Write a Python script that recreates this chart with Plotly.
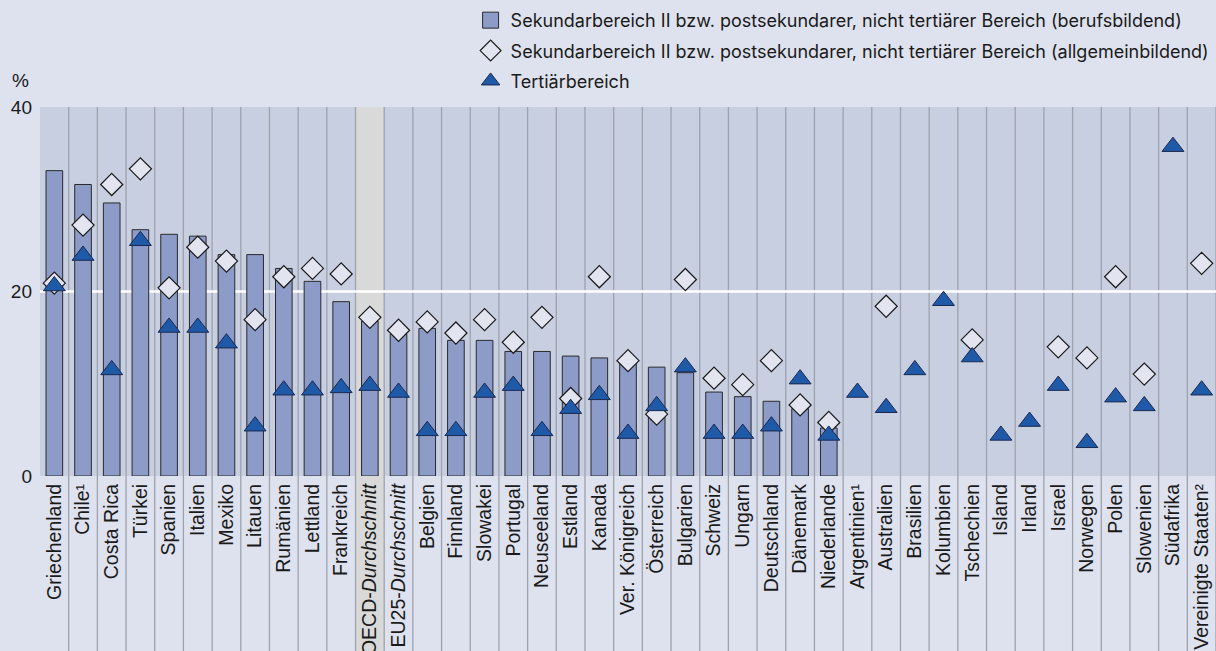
import plotly.graph_objects as go

categories = ["Griechenland", "Chile¹", "Costa Rica", "Türkei", "Spanien", "Italien", "Mexiko",
              "Litauen", "Rumänien", "Lettland", "Frankreich", "OECD-Durchschnitt", "EU25-Durchschnitt",
              "Belgien", "Finnland", "Slowakei", "Portugal", "Neuseeland", "Estland", "Kanada",
              "Ver. Königreich", "Österreich", "Bulgarien", "Schweiz", "Ungarn", "Deutschland",
              "Dänemark", "Niederlande", "Argentinien¹", "Australien", "Brasilien", "Kolumbien",
              "Tschechien", "Island", "Irland", "Israel", "Norwegen", "Polen", "Slowenien",
              "Südafrika", "Vereinigte Staaten²"]
tick_labels = [c if "Durchschnitt" not in c else c.replace("Durchschnitt", "<i>Durchschnitt</i>")
               for c in categories]

vocational = [33.1, 31.6, 29.6, 26.7, 26.2, 26.0, 24.0, 24.0, 22.5, 21.1, 18.9, 16.8, 15.4,
              16.0, 14.7, 14.7, 13.5, 13.5, 13.0, 12.8, 12.3, 11.8, 11.2, 9.1, 8.6, 8.1, 7.3, 5.2,
              None, None, None, None, None, None, None, None, None, None, None, None, None]
general = [20.9, 27.2, 31.6, 33.3, 20.4, 24.8, 23.3, 16.95, 21.6, 22.5, 21.9, 17.2, 15.8,
           16.7, 15.5, 16.95, 14.5, 17.2, 8.4, 21.6, 12.5, 6.7, 21.3, 10.6, 9.9, 12.5, 7.7, 5.8,
           None, 18.4, None, None, 14.75, None, None, 14.0, 12.8, 21.6, 11.05, None, 23.05]
tertiary = [20.6, 23.9, 11.5, 25.5, 16.1, 16.1, 14.4, 5.4, 9.3, 9.3, 9.55, 9.8, 9.05,
            4.9, 4.9, 9.05, 9.8, 4.9, 7.3, 8.8, 4.6, 7.6, 11.8, 4.6, 4.6, 5.4, 10.5, 4.4,
            9.05, 7.4, 11.5, 19.0, 12.9, 4.4, 5.9, 9.8, 3.6, 8.55, 7.6, 35.7, 9.3]

y_ticks = [0, 20, 40]
highlight = "OECD-Durchschnitt"

name_voc = "Sekundarbereich II bzw. postsekundarer, nicht tertiärer Bereich (berufsbildend)"
name_gen = "Sekundarbereich II bzw. postsekundarer, nicht tertiärer Bereich (allgemeinbildend)"
name_ter = "Tertiärbereich"

BAR = "#8c9bc8"
TRI = "#1f5aa8"
DIA = "#e2e5ef"
PAPER = "#dee2ee"
PLOT = "#c8cfe1"
SEP = "#9da2ad"

fig = go.Figure()
fig.add_trace(go.Bar(x=categories, y=vocational, width=0.58, showlegend=False,
                     marker=dict(color=BAR, line=dict(color="#2a2a2a", width=1)),
                     name=name_voc))
# legend proxy for the bars
fig.add_trace(go.Scatter(x=[None], y=[None], mode="markers", name=name_voc, legendgroup="a",
                         marker=dict(symbol="square", size=16, color=BAR,
                                     line=dict(color="#2a2a2a", width=1))))
fig.add_trace(go.Scatter(x=categories, y=general, mode="markers", name=name_gen, legendgroup="b",
                         marker=dict(symbol="diamond", size=17, color=DIA,
                                     line=dict(color="#1a1a1a", width=1.2))))
fig.add_trace(go.Scatter(x=categories, y=tertiary, mode="markers", name=name_ter, legendgroup="c",
                         marker=dict(symbol="triangle-up", size=19, color=TRI,
                                     line=dict(color="#1a2850", width=1))))

W, H = 1216, 651
ML, MR, MT, MB = 40, 0, 107, 175
ph = H - MT - MB
ybot = -MB / ph

shapes = []
hi = categories.index(highlight)
shapes.append(dict(type="rect", xref="x", yref="paper", x0=hi - 0.5, x1=hi + 0.5, y0=ybot, y1=1,
                   fillcolor="#d9d9d9", line=dict(width=0), layer="below"))
for i in range(1, len(categories) + 1):
    shapes.append(dict(type="line", xref="x", yref="paper", x0=i - 0.5, x1=i - 0.5, y0=ybot, y1=1,
                       line=dict(color=SEP, width=1.3), layer="below"))
shapes.append(dict(type="line", xref="paper", yref="y", x0=0, x1=1, y0=20, y1=20,
                   line=dict(color="white", width=2.5), layer="below"))

fig.update_layout(
    width=W, height=H,
    margin=dict(l=ML, r=MR, t=MT, b=MB, pad=0, autoexpand=False),
    paper_bgcolor=PAPER, plot_bgcolor=PLOT,
    font=dict(family="Liberation Sans, Arial, sans-serif", size=19, color="#1a1a1a"),
    bargap=0.42,
    shapes=shapes,
    showlegend=True,
    legend=dict(xref="container", yref="container", x=0.387, y=0.997, xanchor="left", yanchor="top",
                bgcolor="rgba(0,0,0,0)", font=dict(family="Inter, sans-serif", size=18, color="#1a1a1a"),
                tracegroupgap=4, traceorder="grouped"),
    annotations=[dict(text="%", xref="paper", yref="paper", x=0, y=1 + 26.7 / ph, xanchor="right",
                      yanchor="middle", xshift=-9, showarrow=False, font=dict(size=19))],
)
fig.update_xaxes(type="category", range=[-0.5, len(categories) - 0.5], tickmode="array",
                 tickvals=categories, ticktext=tick_labels, tickangle=-90, ticks="",
                 showgrid=False, zeroline=False, showline=False, automargin=False,
                 ticklabelstandoff=3, tickfont=dict(size=19.5))
fig.update_yaxes(range=[0, 40], tickvals=y_ticks, ticks="", showgrid=False, zeroline=False,
                 showline=False, automargin=False, ticklabelstandoff=7)

fig.write_html("out.html", config={"displayModeBar": False},
               post_script="document.body.style.margin='0';")
